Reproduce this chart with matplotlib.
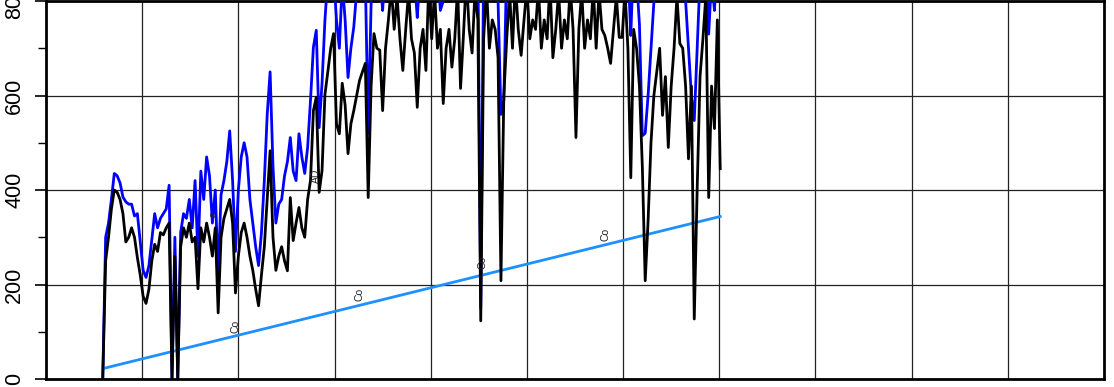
import numpy as np
import matplotlib
matplotlib.use("Agg")
import matplotlib.pyplot as plt

plt.rcParams['font.family'] = ['Liberation Sans', 'DejaVu Sans']

# Daily series, sampled every 3 days starting at day 59
start_day = 59
step_days = 3

observed = [
    0, 250, 300, 360, 400, 395, 380, 350, 290, 300,
    320, 300, 257, 220, 175, 160, 190, 250, 285, 270,
    310, 305, 320, 330, 0, 260, 0, 280, 320, 300,
    330, 290, 300, 191, 320, 290, 330, 300, 260, 320,
    140, 300, 340, 360, 380, 330, 182, 260, 310, 330,
    300, 260, 230, 190, 155, 220, 280, 380, 483, 300,
    230, 260, 280, 250, 229, 384, 293, 330, 363, 320,
    300, 380, 420, 568, 596, 395, 441, 602, 650, 700,
    731, 540, 519, 626, 580, 477, 540, 568, 600, 632,
    650, 668, 384, 620, 731, 700, 696, 568, 700, 760,
    830, 740, 810, 720, 653, 740, 820, 720, 690, 575,
    700, 740, 653, 840, 720, 820, 700, 740, 583, 700,
    740, 660, 720, 830, 615, 727, 850, 740, 690, 820,
    760, 123, 720, 830, 700, 760, 740, 680, 208, 600,
    720, 820, 700, 840, 740, 685, 760, 830, 720, 760,
    740, 830, 700, 760, 720, 840, 680, 740, 820, 700,
    760, 720, 830, 740, 511, 740, 820, 700, 760, 720,
    830, 700, 820, 740, 727, 700, 668, 740, 810, 723,
    723, 820, 700, 426, 740, 700, 620, 450, 208, 335,
    500, 600, 650, 700, 558, 640, 490, 620, 700, 810,
    710, 700, 620, 466, 620, 127, 400, 640, 720, 810,
    384, 620, 530, 760, 445,
]

potential = [
    0, 300, 330, 380, 435, 430, 415, 385, 375, 370,
    370, 345, 350, 290, 230, 215, 240, 295, 350, 320,
    340, 350, 360, 410, 0, 300, 0, 310, 350, 340,
    380, 320, 420, 260, 440, 380, 470, 430, 330, 400,
    220, 390, 420, 460, 525, 420, 270, 400, 470, 500,
    470, 380, 330, 280, 240, 310, 420, 560, 650, 450,
    330, 370, 380, 430, 460, 511, 440, 420, 519, 470,
    435, 490, 590, 702, 738, 532, 626, 759, 850, 900,
    860, 760, 700, 840, 760, 638, 700, 745, 820, 850,
    880, 850, 519, 800, 900, 880, 860, 780, 880, 920,
    950, 900, 940, 900, 830, 900, 950, 880, 850, 765,
    860, 900, 820, 920, 880, 950, 880, 780, 800, 880,
    900, 850, 880, 920, 820, 900, 940, 900, 880, 950,
    900, 150, 880, 950, 900, 920, 900, 800, 560, 590,
    880, 920, 900, 950, 900, 860, 940, 960, 900, 920,
    900, 950, 880, 920, 900, 960, 860, 900, 940, 880,
    920, 900, 950, 900, 800, 900, 950, 880, 920, 900,
    920, 880, 950, 900, 900, 880, 850, 900, 920, 900,
    900, 920, 880, 727, 900, 850, 750, 515, 520, 600,
    700, 800, 860, 900, 850, 900, 850, 900, 920, 900,
    900, 880, 800, 700, 600, 547, 700, 850, 900, 920,
    730, 850, 780, 900, 880,
]

# Linear trend endpoints
trend_days = [59, 701]
trend_vals = [22, 344]

# Small rotated labels
label_days = [197, 326, 454, 582, 281, 174]
label_vals = [112, 180, 246, 305, 430, 350]
label_text = ["Co", "Co", "Co", "Co", "AD", "a"]

y_ticks = [0, 200, 400, 600, 800]
y_minor = [100, 300, 500, 700]
x_grid = [100, 200, 300, 400, 500, 600, 700, 800, 900, 1000]

days = start_day + step_days * np.arange(len(observed))

fig = plt.figure(figsize=(11.14, 3.87), dpi=100)
ax = fig.add_axes([46 / 1114, 8 / 387, 1058 / 1114, 378 / 387])

ax.plot(days, potential, color="#0000ff", lw=2.0, zorder=3)
ax.plot(trend_days, trend_vals, color="#1e90ff", lw=2.0, zorder=4)
ax.plot(days, observed, color="black", lw=2.0, zorder=5)

for d, v, t in zip(label_days, label_vals, label_text):
    ax.text(d, v, t, rotation=90, fontsize=7.5, ha="center", va="center",
            color="#222222", zorder=6)

ax.set_xlim(0, 1100)
ax.set_ylim(0, 800)

ax.set_xticks(x_grid)
ax.set_xticklabels([])
ax.tick_params(axis="x", length=0)

ax.set_yticks(y_ticks)
ax.set_yticks(y_minor, minor=True)
ax.set_yticklabels([str(v) for v in y_ticks], rotation=90, va="center",
                   fontsize=15.5)
ax.tick_params(axis="y", which="major", length=8, width=1.2, pad=7)
ax.tick_params(axis="y", which="minor", length=6, width=1.0)

ax.grid(True, color="#222222", lw=0.9, zorder=1)
ax.set_axisbelow(True)

for s in ax.spines.values():
    s.set_linewidth(2.0)

fig.savefig("out.png", dpi=100)
